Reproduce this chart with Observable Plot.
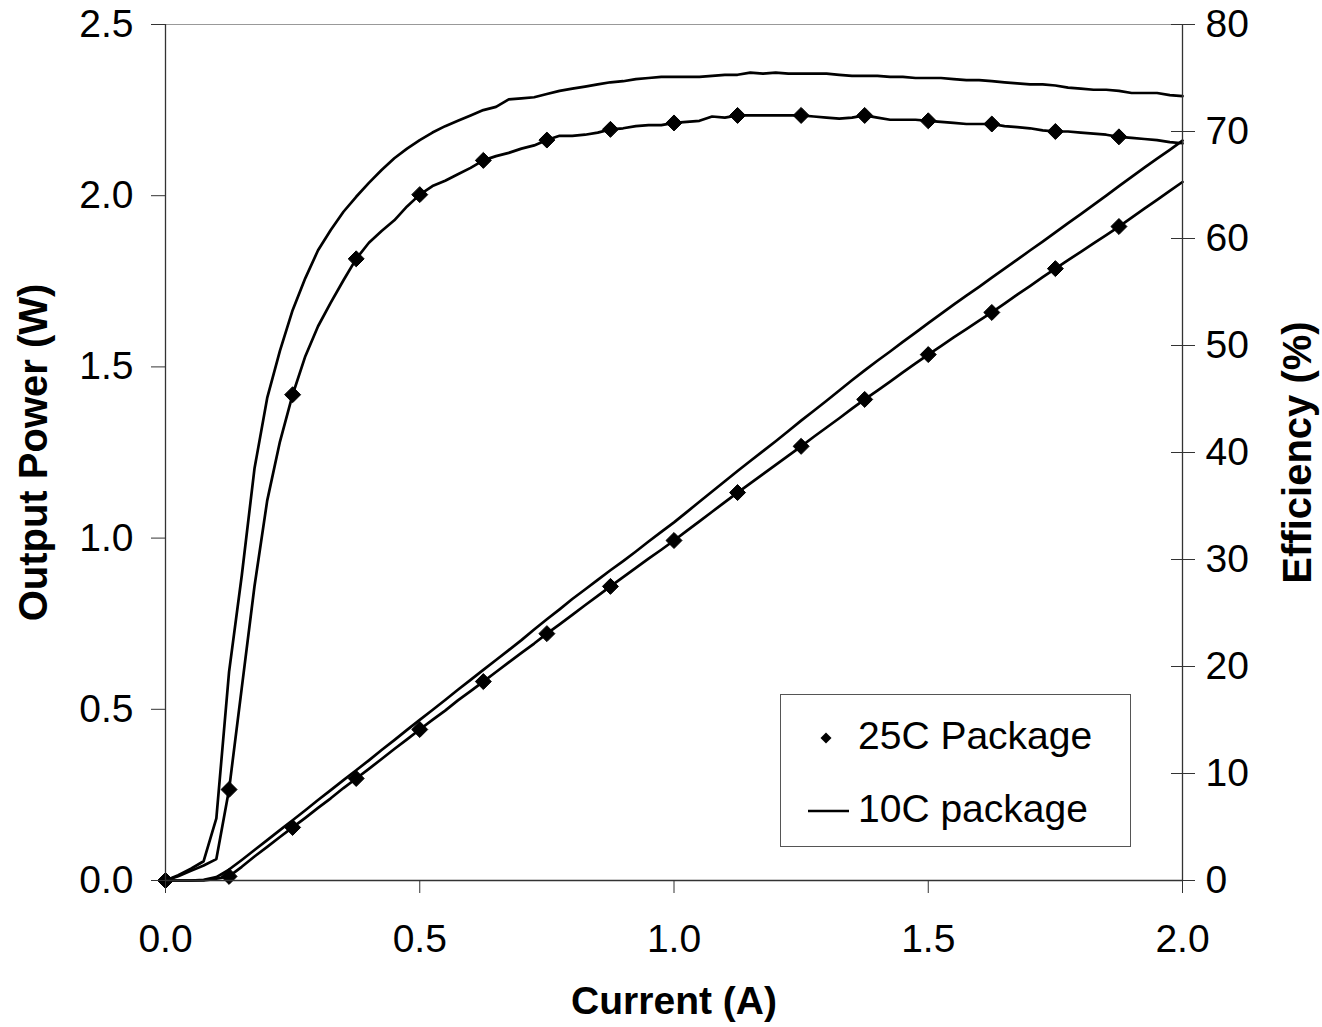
<!DOCTYPE html>
<html>
<head>
<meta charset="utf-8">
<script src="https://cdn.jsdelivr.net/npm/d3@7"></script>
<script src="https://cdn.jsdelivr.net/npm/@observablehq/plot@0.6"></script>
<style>
  html, body { margin: 0; padding: 0; background: #fff; }
  #wrap { position: relative; width: 1322px; height: 1027px; font-family: "Liberation Sans", Arial, sans-serif; }
  #legend { position: absolute; left: 780px; top: 694px; width: 349px; height: 151px; border: 1px solid #555; background: #fff; }
  #legend .row { position: absolute; left: 0; font-size: 39px; color: #000; white-space: nowrap; }
  #legend svg { position: absolute; }
</style>
</head>
<body>
<div id="wrap">
  <div id="chart"></div>
  <div id="legend">
    <svg style="left:38px;top:36px" width="14" height="14"><path d="M7,1.5L12.5,7L7,12.5L1.5,7Z" fill="#000"/></svg>
    <div class="row" style="left:77px;top:19px">25C Package</div>
    <svg style="left:26px;top:113px" width="44" height="6"><line x1="1" x2="42" y1="3" y2="3" stroke="#000" stroke-width="2.6"/></svg>
    <div class="row" style="left:77px;top:92px">10C package</div>
  </div>
</div>
<script>
// Current (A)
const current = [0, 0.025, 0.05, 0.075, 0.1, 0.125, 0.15, 0.175, 0.2, 0.225, 0.25, 0.275, 0.3, 0.325, 0.35, 0.375, 0.4, 0.425, 0.45, 0.475,
  0.5, 0.525, 0.55, 0.575, 0.6, 0.625, 0.65, 0.675, 0.7, 0.725, 0.75, 0.775, 0.8, 0.825, 0.85, 0.875, 0.9, 0.925, 0.95, 0.975,
  1.0, 1.025, 1.05, 1.075, 1.1, 1.125, 1.15, 1.175, 1.2, 1.225, 1.25, 1.275, 1.3, 1.325, 1.35, 1.375, 1.4, 1.425, 1.45, 1.475,
  1.5, 1.525, 1.55, 1.575, 1.6, 1.625, 1.65, 1.675, 1.7, 1.725, 1.75, 1.775, 1.8, 1.825, 1.85, 1.875, 1.9, 1.925, 1.95, 1.975, 2.0];

// Output power (W), 25C package
const power25 = [0, 0, 0, 0, 0.005, 0.012, 0.040, 0.070, 0.098, 0.127, 0.155, 0.183, 0.212, 0.240, 0.270, 0.298, 0.326, 0.355, 0.384, 0.412,
  0.441, 0.469, 0.496, 0.526, 0.553, 0.581, 0.609, 0.637, 0.665, 0.692, 0.721, 0.748, 0.776, 0.804, 0.831, 0.859, 0.886, 0.913, 0.940, 0.966,
  0.993, 1.021, 1.049, 1.077, 1.105, 1.133, 1.160, 1.187, 1.214, 1.241, 1.268, 1.296, 1.323, 1.350, 1.378, 1.405, 1.431, 1.457, 1.484, 1.510,
  1.536, 1.561, 1.586, 1.610, 1.635, 1.659, 1.685, 1.711, 1.736, 1.762, 1.787, 1.812, 1.836, 1.861, 1.885, 1.910, 1.936, 1.962, 1.988, 2.014, 2.040];

// Output power (W), 10C package
const power10 = [0, 0, 0, 0.002, 0.010, 0.032, 0.060, 0.089, 0.118, 0.147, 0.176, 0.205, 0.235, 0.264, 0.293, 0.322, 0.351, 0.381, 0.410, 0.440,
  0.469, 0.498, 0.527, 0.557, 0.586, 0.615, 0.644, 0.673, 0.702, 0.733, 0.763, 0.792, 0.822, 0.850, 0.878, 0.906, 0.933, 0.961, 0.990, 1.018,
  1.046, 1.076, 1.106, 1.136, 1.166, 1.196, 1.225, 1.254, 1.283, 1.313, 1.343, 1.372, 1.401, 1.431, 1.461, 1.490, 1.518, 1.545, 1.573, 1.600,
  1.628, 1.655, 1.682, 1.708, 1.734, 1.761, 1.787, 1.813, 1.840, 1.866, 1.893, 1.920, 1.946, 1.973, 2.000, 2.028, 2.055, 2.082, 2.108, 2.134, 2.161];

// Efficiency (%), 25C package
const eff25 = [0, 0.4, 0.9, 1.4, 2.0, 8.5, 18.0, 27.5, 35.5, 41.0, 45.4, 49.0, 51.8, 54.0, 56.1, 58.1, 59.6, 60.7, 61.7, 63.0,
  64.1, 64.9, 65.4, 66.0, 66.6, 67.3, 67.7, 68.0, 68.4, 68.7, 69.2, 69.6, 69.6, 69.7, 69.9, 70.2, 70.3, 70.5, 70.6, 70.6,
  70.8, 70.9, 71.0, 71.4, 71.3, 71.5, 71.5, 71.5, 71.5, 71.5, 71.5, 71.4, 71.3, 71.2, 71.3, 71.5, 71.3, 71.1, 71.1, 71.1,
  71.0, 70.9, 70.8, 70.7, 70.7, 70.7, 70.5, 70.4, 70.3, 70.1, 70.0, 70.0, 69.9, 69.8, 69.7, 69.5, 69.4, 69.3, 69.2, 69.0, 68.9];

// Efficiency (%), 10C package
const eff10 = [0, 0.5, 1.1, 1.8, 5.8, 19.5, 28.5, 38.5, 45.1, 49.5, 53.3, 56.3, 58.9, 60.8, 62.5, 63.9, 65.2, 66.4, 67.5, 68.4,
  69.2, 69.9, 70.5, 71.0, 71.5, 72.0, 72.3, 73.0, 73.1, 73.2, 73.5, 73.8, 74.0, 74.2, 74.4, 74.6, 74.7, 74.9, 75.0, 75.1,
  75.1, 75.1, 75.1, 75.2, 75.3, 75.3, 75.5, 75.4, 75.5, 75.4, 75.4, 75.4, 75.4, 75.3, 75.2, 75.2, 75.2, 75.1, 75.1, 75.0,
  75.0, 75.0, 74.9, 74.8, 74.8, 74.7, 74.6, 74.5, 74.4, 74.4, 74.3, 74.1, 74.0, 73.9, 73.9, 73.8, 73.6, 73.6, 73.6, 73.4, 73.3];

// Tick labels
const xTicks = [0, 0.5, 1.0, 1.5, 2.0];
const powerTicks = [0, 0.5, 1.0, 1.5, 2.0, 2.5];
const effTicks = [0, 10, 20, 30, 40, 50, 60, 70, 80];

const POWER_MAX = 2.5, EFF_MAX = 80;
const toPower = e => e * POWER_MAX / EFF_MAX;

const rows = current.map((I, i) => ({I, P25: power25[i], P10: power10[i], E25: eff25[i], E10: eff10[i]}));
const markerRows = rows.filter((d, i) => i % 5 === 0 && d.I < 2);

const axisColor = "#333";
const FONT = 39;

const chart = Plot.plot({
  width: 1322,
  height: 1027,
  marginLeft: 165,
  marginRight: 140,
  marginTop: 24,
  marginBottom: 147,
  style: {fontFamily: '"Liberation Sans", Arial, sans-serif', background: "#fff", color: "#000", overflow: "visible"},
  x: {domain: [0, 2]},
  y: {domain: [0, POWER_MAX]},
  marks: [
    Plot.frame({stroke: "#999"}),
    // lines
    Plot.line(rows, {x: "I", y: "P10", stroke: "#000", strokeWidth: 2.7}),
    Plot.line(rows, {x: "I", y: "P25", stroke: "#000", strokeWidth: 2.7}),
    Plot.line(rows, {x: "I", y: d => toPower(d.E10), stroke: "#000", strokeWidth: 2.7}),
    Plot.line(rows, {x: "I", y: d => toPower(d.E25), stroke: "#000", strokeWidth: 2.7}),
    // markers (25C)
    Plot.dot(markerRows, {x: "I", y: "P25", symbol: "diamond2", r: 7.2, fill: "#000", stroke: "#000", strokeWidth: 1}),
    Plot.dot(markerRows, {x: "I", y: d => toPower(d.E25), symbol: "diamond2", r: 7.2, fill: "#000", stroke: "#000", strokeWidth: 1}),
    // axis lines
    Plot.ruleX([0], {stroke: axisColor, strokeWidth: 1.3}),
    Plot.ruleX([2], {stroke: axisColor, strokeWidth: 1.3}),
    Plot.ruleY([0], {stroke: axisColor, strokeWidth: 1.3}),
    // axes
    Plot.axisX(xTicks, {anchor: "bottom", tickSize: 13, tickPadding: 31, tickFormat: d => d.toFixed(1), fontSize: FONT, stroke: axisColor, label: null}),
    Plot.axisY(powerTicks, {anchor: "left", tickSize: 14, tickPadding: 18, tickFormat: d => d.toFixed(1), fontSize: FONT, stroke: axisColor, label: null}),
    Plot.axisY(effTicks.map(toPower), {anchor: "right", tickSize: 24, insetRight: 12, tickPadding: 11, tickFormat: d => String(Math.round(d * EFF_MAX / POWER_MAX)), fontSize: FONT, stroke: axisColor, label: null}),
    // axis titles
    Plot.text(["Current (A)"], {frameAnchor: "bottom", dy: 133, textAnchor: "middle", fontSize: 39, fontWeight: "bold", fill: "#000"}),
    Plot.text(["Output Power (W)"], {frameAnchor: "left", dx: -131, rotate: -90, textAnchor: "middle", fontSize: 40, fontWeight: "bold", fill: "#000"}),
    Plot.text(["Efficiency (%)"], {frameAnchor: "right", dx: 116, rotate: -90, textAnchor: "middle", fontSize: 40, fontWeight: "bold", fill: "#000"})
  ]
});
document.getElementById("chart").appendChild(chart);
</script>
</body>
</html>
